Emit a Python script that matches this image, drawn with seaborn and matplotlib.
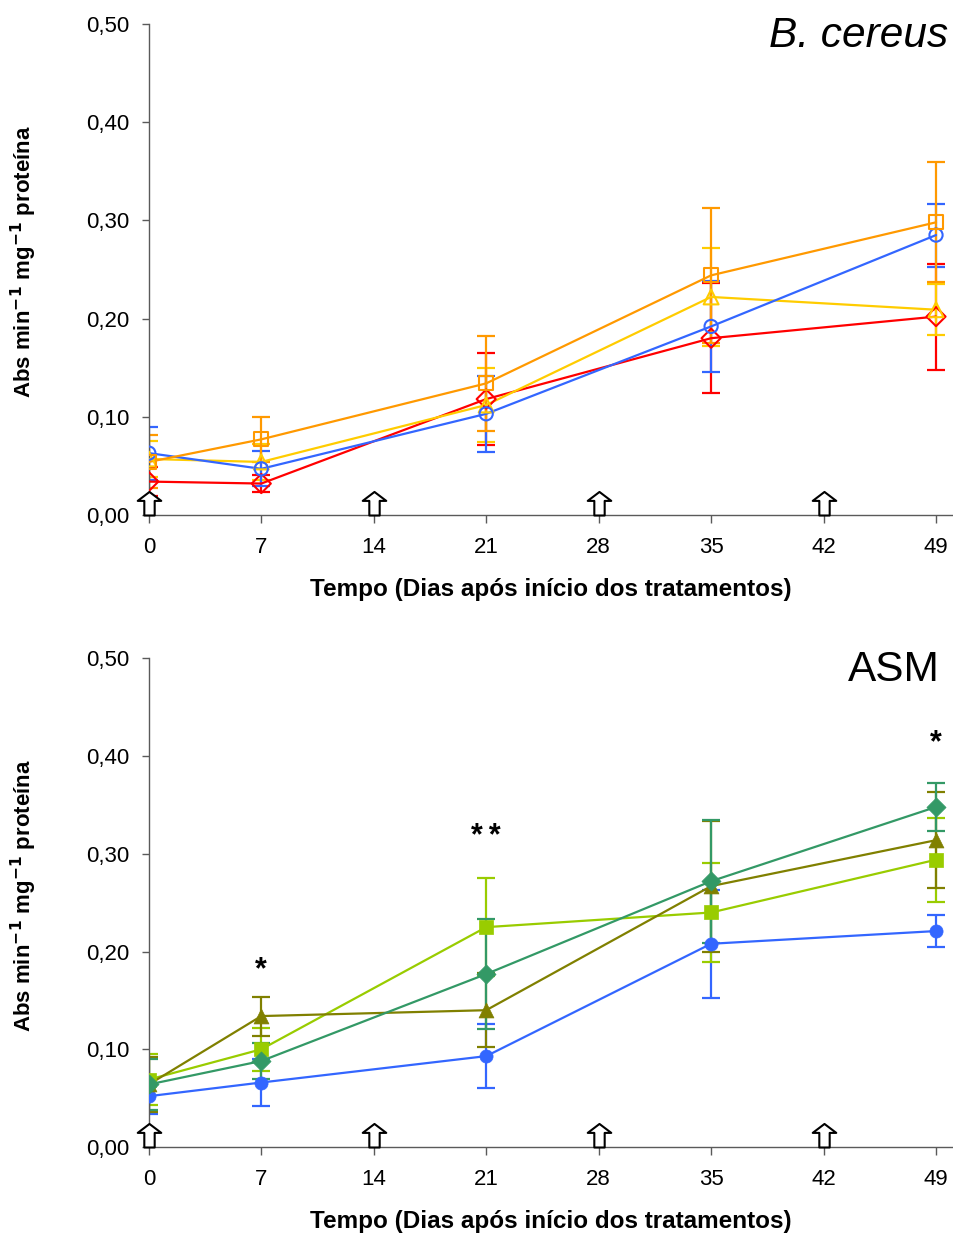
import numpy as np
import pandas as pd
import matplotlib
matplotlib.use("Agg")
import matplotlib.pyplot as plt
from matplotlib.path import Path
from matplotlib.ticker import FuncFormatter
import seaborn as sns

# Sampling days and treatment application days
days = [0, 7, 21, 35, 49]
treat_days = [0, 14, 28, 42]
xticks = [0, 7, 14, 21, 28, 35, 42, 49]

# B. cereus panel: means and errors
bc_orange = [0.054, 0.077, 0.134, 0.244, 0.298]
bc_orange_err = [0.027, 0.023, 0.048, 0.069, 0.061]
bc_yellow = [0.057, 0.054, 0.112, 0.222, 0.209]
bc_yellow_err = [0.018, 0.018, 0.038, 0.050, 0.026]
bc_blue = [0.063, 0.047, 0.103, 0.192, 0.285]
bc_blue_err = [0.027, 0.018, 0.039, 0.046, 0.032]
bc_red = [0.034, 0.032, 0.118, 0.180, 0.202]
bc_red_err = [0.015, 0.009, 0.047, 0.056, 0.054]

# ASM panel: means and errors
asm_teal = [0.064, 0.088, 0.177, 0.272, 0.348]
asm_teal_err = [0.026, 0.018, 0.056, 0.063, 0.025]
asm_olive = [0.064, 0.134, 0.140, 0.267, 0.314]
asm_olive_err = [0.028, 0.020, 0.038, 0.067, 0.049]
asm_lgreen = [0.069, 0.100, 0.225, 0.240, 0.294]
asm_lgreen_err = [0.026, 0.022, 0.050, 0.051, 0.043]
asm_blue = [0.052, 0.066, 0.093, 0.208, 0.221]
asm_blue_err = [0.018, 0.024, 0.033, 0.055, 0.016]

# Significance marks (ASM panel)
sig_x = [7, 21, 49]
sig_y = [0.181, 0.317, 0.413]
sig_txt = ["*", "*\u2009*", "*"]

sns.set_style("white")
plt.rcParams["font.family"] = ["Liberation Sans", "DejaVu Sans"]
plt.rcParams["text.color"] = "black"
plt.rcParams["axes.labelcolor"] = "black"
plt.rcParams["xtick.labelcolor"] = "black"
plt.rcParams["ytick.labelcolor"] = "black"

# Hollow up-arrow marker, base at the data point
arrow_verts = [(-0.22, 0.0), (0.22, 0.0), (0.22, 0.62), (0.5, 0.62),
               (0.0, 1.0), (-0.5, 0.62), (-0.22, 0.62), (-0.22, 0.0)]
arrow_path = Path(arrow_verts, closed=True)

AXIS_GREY = "#5a5a5a"


def draw_panel(ax, series, title, title_style, title_x):
    for y, err, color, marker, filled in series:
        df = pd.DataFrame({"dia": days, "valor": y})
        ax.errorbar(days, y, yerr=err, fmt="none", ecolor=color,
                    elinewidth=1.6, capsize=6.5, capthick=1.6, zorder=2)
        sns.lineplot(data=df, x="dia", y="valor", ax=ax, color=color,
                     linewidth=1.6, zorder=3)
        size = {"o": 90, "s": 100, "^": 115, "D": 95}[marker]
        if filled:
            sns.scatterplot(data=df, x="dia", y="valor", ax=ax, marker=marker,
                            s=size, color=color, edgecolor=color, linewidth=0.5,
                            zorder=4, legend=False)
        else:
            sns.scatterplot(data=df, x="dia", y="valor", ax=ax, marker=marker,
                            s=size, facecolor="none", edgecolor=color,
                            linewidth=1.5, zorder=4, legend=False)
    ax.scatter(treat_days, [0] * len(treat_days), marker=arrow_path, s=1150,
               facecolor="white", edgecolor="black", linewidth=1.5,
               zorder=5, clip_on=False)
    ax.set_xlim(0, 50)
    ax.set_ylim(0, 0.5)
    ax.set_xticks(xticks)
    ax.set_yticks(np.arange(0, 0.51, 0.1))
    ax.yaxis.set_major_formatter(FuncFormatter(lambda v, p: f"{v:.2f}".replace(".", ",")))
    ax.tick_params(axis="x", labelsize=16, direction="out", length=6,
                   width=1, color=AXIS_GREY, bottom=True, pad=10)
    ax.tick_params(axis="y", labelsize=16, direction="out", length=5,
                   width=1, color=AXIS_GREY, left=True, pad=9)
    for s in ["top", "right"]:
        ax.spines[s].set_visible(False)
    for s in ["left", "bottom"]:
        ax.spines[s].set_color(AXIS_GREY)
        ax.spines[s].set_linewidth(1.0)
    ax.set_xlabel("Tempo (Dias após início dos tratamentos)", fontsize=17.5,
                  fontweight="bold", labelpad=14)
    ax.set_ylabel("Abs min$^{\\mathbf{-1}}$ mg$^{\\mathbf{-1}}$ proteína", fontsize=16,
                  fontweight="bold")
    ax.yaxis.set_label_coords(-0.137, 0.515)
    ax.text(title_x, 0.953, title, transform=ax.transAxes, ha="right",
            va="baseline", fontsize=30.5, fontstyle=title_style)


fig = plt.figure(figsize=(9.54, 12.4), dpi=100)
ax1 = fig.add_axes([0.156, 0.5847, 0.842, 0.396])
ax2 = fig.add_axes([0.156, 0.075, 0.842, 0.394])

draw_panel(ax1, [
    (bc_red, bc_red_err, "#FF0000", "D", False),
    (bc_yellow, bc_yellow_err, "#FFCC00", "^", False),
    (bc_blue, bc_blue_err, "#3366FF", "o", False),
    (bc_orange, bc_orange_err, "#FF9900", "s", False),
], "B. cereus", "italic", 0.995)

draw_panel(ax2, [
    (asm_blue, asm_blue_err, "#3366FF", "o", True),
    (asm_lgreen, asm_lgreen_err, "#99CC00", "s", True),
    (asm_olive, asm_olive_err, "#808000", "^", True),
    (asm_teal, asm_teal_err, "#339966", "D", True),
], "ASM", "normal", 0.985)

for x, y, t in zip(sig_x, sig_y, sig_txt):
    ax2.text(x, y, t, ha="center", va="center", fontsize=22, fontweight="bold")

fig.savefig("out.png", dpi=100)
